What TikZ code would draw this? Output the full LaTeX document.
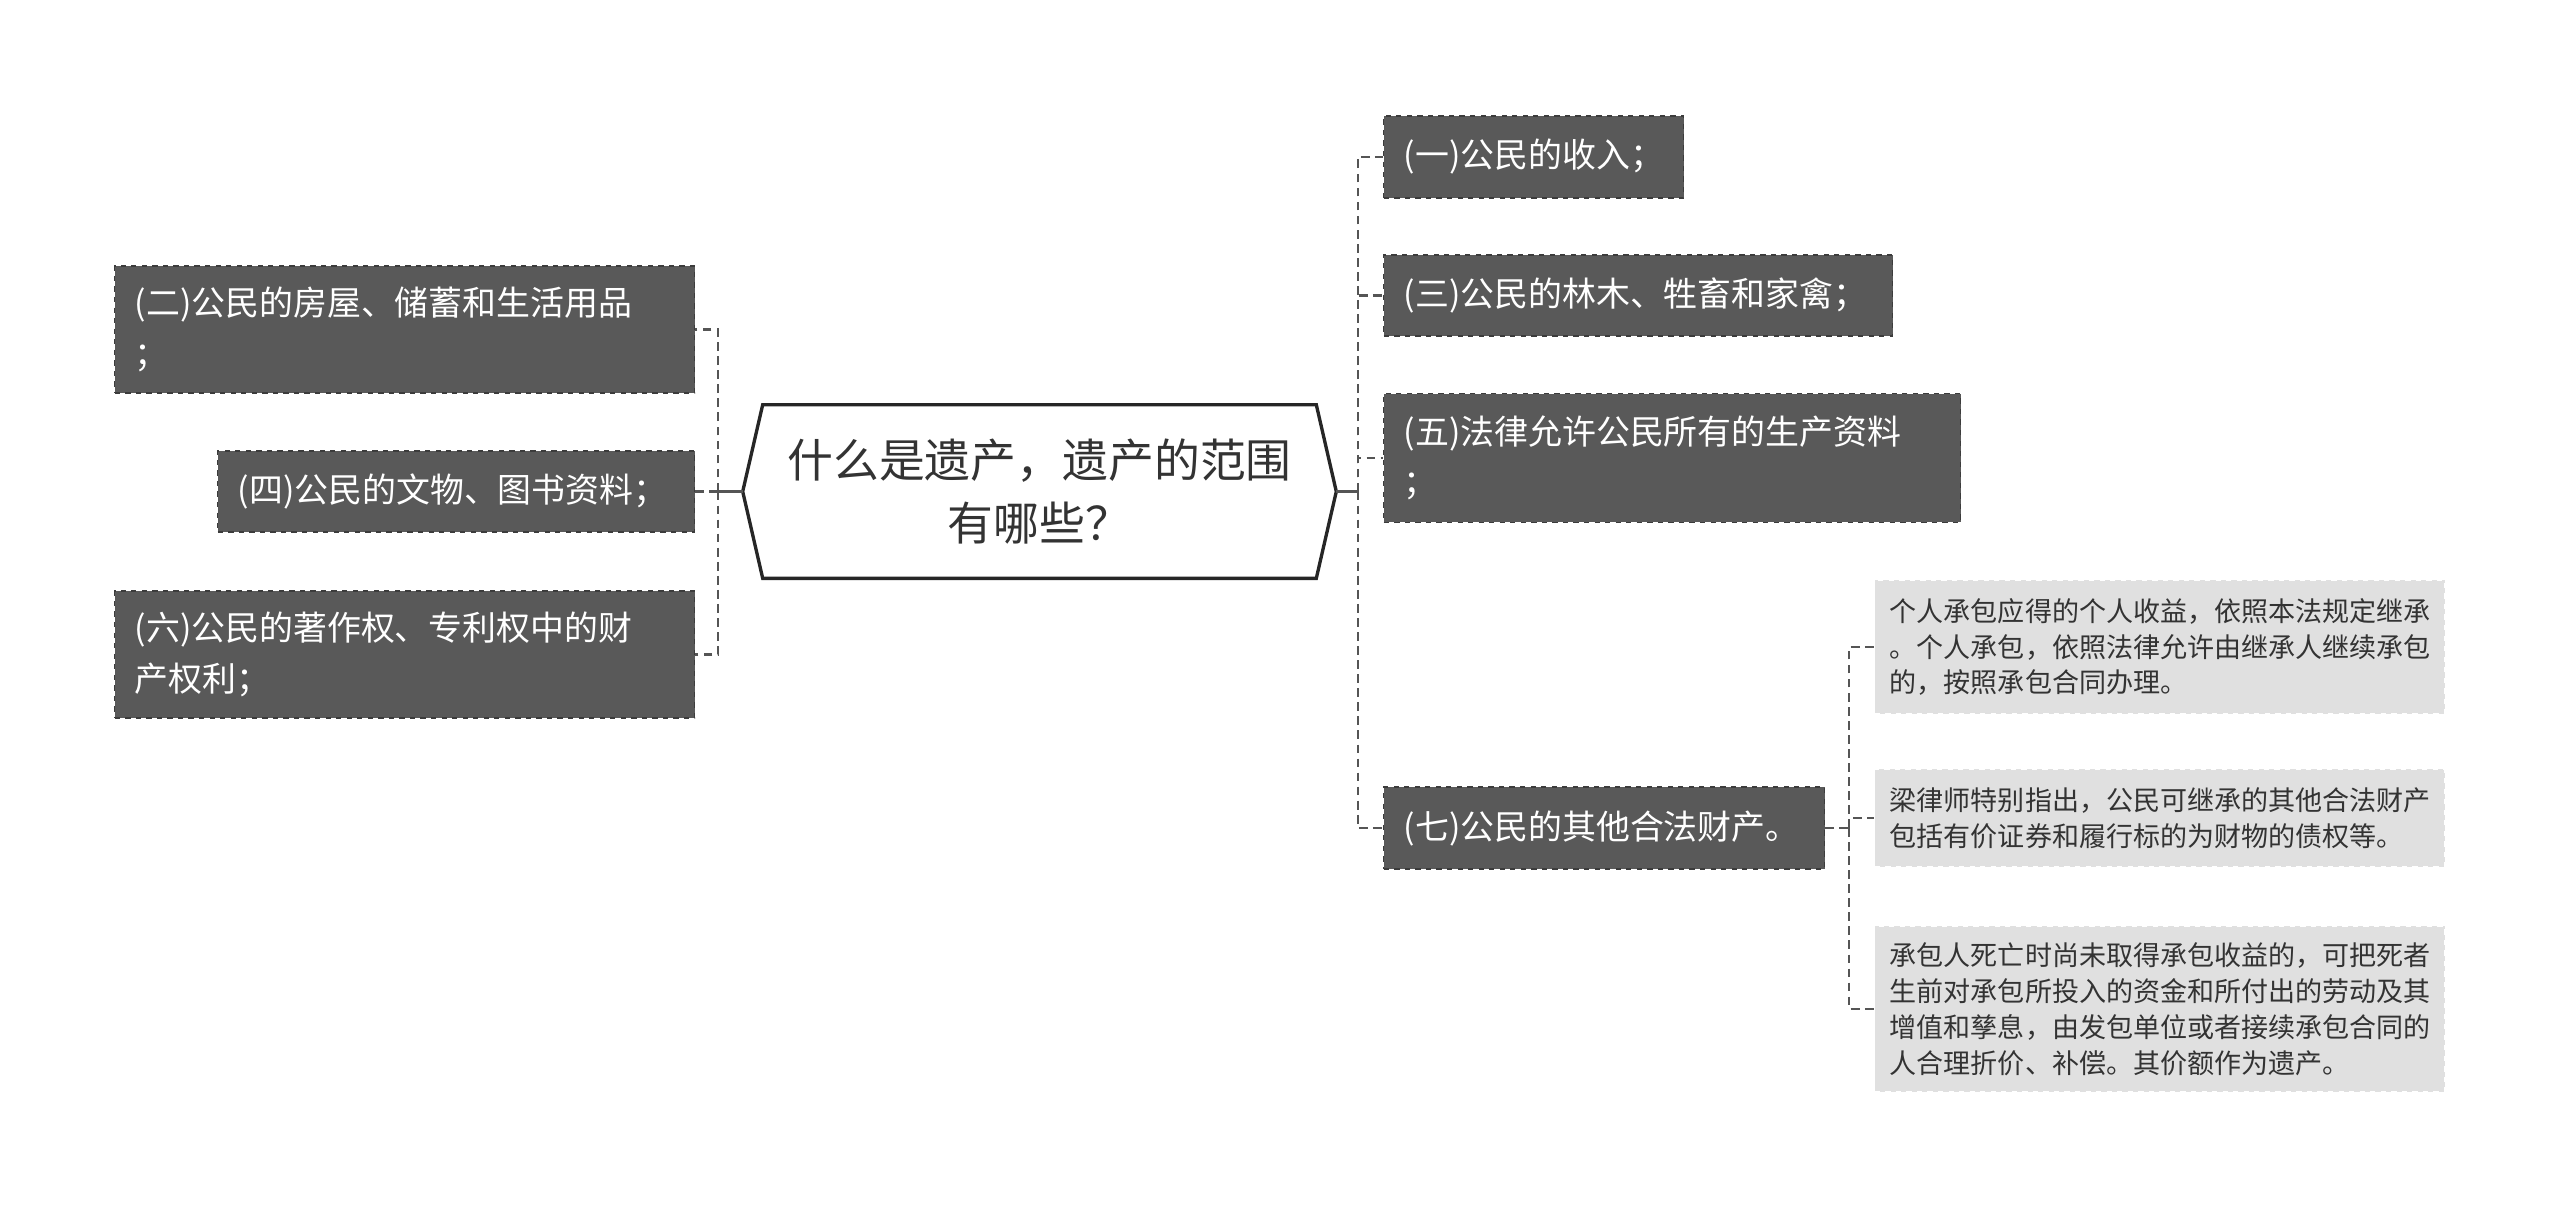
\documentclass[tikz,border=0pt]{standalone}
\usepackage{fontspec}
\setmainfont{Noto Sans CJK SC}

\definecolor{boxdark}{HTML}{595959}
\definecolor{boxedge}{HTML}{3C3C3C}
\definecolor{boxlight}{HTML}{E0E0E0}
\definecolor{linkgray}{HTML}{555555}
\definecolor{inkgray}{HTML}{333333}

\tikzset{
    darkbox/.style={draw=boxedge, dashed, line width=0.8pt, fill=boxdark, text=white,
        font=\fontsize{19.3}{28.8}\selectfont, anchor=west, align=left,
        inner xsep=0.4cm, inner ysep=0pt},
    lightbox/.style={draw=white, dashed, line width=0.8pt, fill=boxlight, text=inkgray,
        font=\fontsize{15.4}{20.4}\selectfont, anchor=west, align=left,
        inner xsep=0.3cm, inner ysep=0pt, text width=10.8cm},
    hubbox/.style={text=inkgray, font=\fontsize{26.1}{36}\selectfont, align=center,
        minimum width=11.06cm, minimum height=3.46cm, inner sep=0pt},
    link/.style={draw=linkgray, line width=1.4pt, dash pattern=on 5pt off 3pt},
    trunk/.style={draw=linkgray, line width=1.4pt},
}

\begin{document}
\begin{tikzpicture}[x=0.02cm, y=-0.02cm]
    \useasboundingbox (0,0) rectangle (2560,1208);

    \node[hubbox] (hub) at (1039.5,491.5) {什么是遗产，遗产的范围\\有哪些？};
    \draw[line width=1.9pt, draw=black!85] (hub.north west) -- (hub.north east)
        -- ([xshift=0.4cm]hub.east) -- (hub.south east) -- (hub.south west)
        -- ([xshift=-0.4cm]hub.west) -- cycle;

    % left side
    \node[darkbox, text width=10.8cm, minimum height=2.54cm] (n2) at (114,329.5) {(二)公民的房屋、储蓄和生活用品\\；};
    \node[darkbox, text width=8.74cm, minimum height=1.62cm] (n4) at (217,491.5) {(四)公民的文物、图书资料；};
    \node[darkbox, text width=10.8cm, minimum height=2.54cm] (n6) at (114,654.5) {(六)公民的著作权、专利权中的财\\产权利；};

    % right side
    \node[darkbox, text width=5.2cm, minimum height=1.64cm] (n1) at (1383,157) {(一)公民的收入；};
    \node[darkbox, text width=9.38cm, minimum height=1.62cm] (n3) at (1383,295.5) {(三)公民的林木、牲畜和家禽；};
    \node[darkbox, text width=10.74cm, minimum height=2.58cm] (n5) at (1383,458) {(五)法律允许公民所有的生产资料\\；};
    \node[darkbox, text width=8.02cm, minimum height=1.64cm] (n7) at (1383,828) {(七)公民的其他合法财产。};

    \node[lightbox, minimum height=2.68cm] (c1) at (1874,647) {个人承包应得的个人收益，依照本法规定继承\\。个人承包，依照法律允许由继承人继续承包\\的，按照承包合同办理。};
    \node[lightbox, minimum height=1.96cm] (c2) at (1874,818) {梁律师特别指出，公民可继承的其他合法财产\\包括有价证券和履行标的为财物的债权等。};
    \node[lightbox, minimum height=3.32cm] (c3) at (1874,1009) {承包人死亡时尚未取得承包收益的，可把死者\\生前对承包所投入的资金和所付出的劳动及其\\增值和孳息，由发包单位或者接续承包合同的\\人合理折价、补偿。其价额作为遗产。};

    \coordinate (busL) at (718,491.5);
    \coordinate (busR) at (1358,491.5);
    \coordinate (bus7) at (1849,828);
    \draw[trunk] ([xshift=-0.4cm]hub.west) -- (busL);
    \draw[trunk] ([xshift=0.4cm]hub.east) -- (busR);
    \foreach \n in {n2,n4,n6} \draw[link] (busL) |- (\n.east);
    \foreach \n in {n1,n3,n5,n7} \draw[link] (busR) |- (\n.west);
    \draw[link] (n7.east) -- (bus7);
    \foreach \n in {c1,c2,c3} \draw[link] (bus7) |- (\n.west);
\end{tikzpicture}
\end{document}
